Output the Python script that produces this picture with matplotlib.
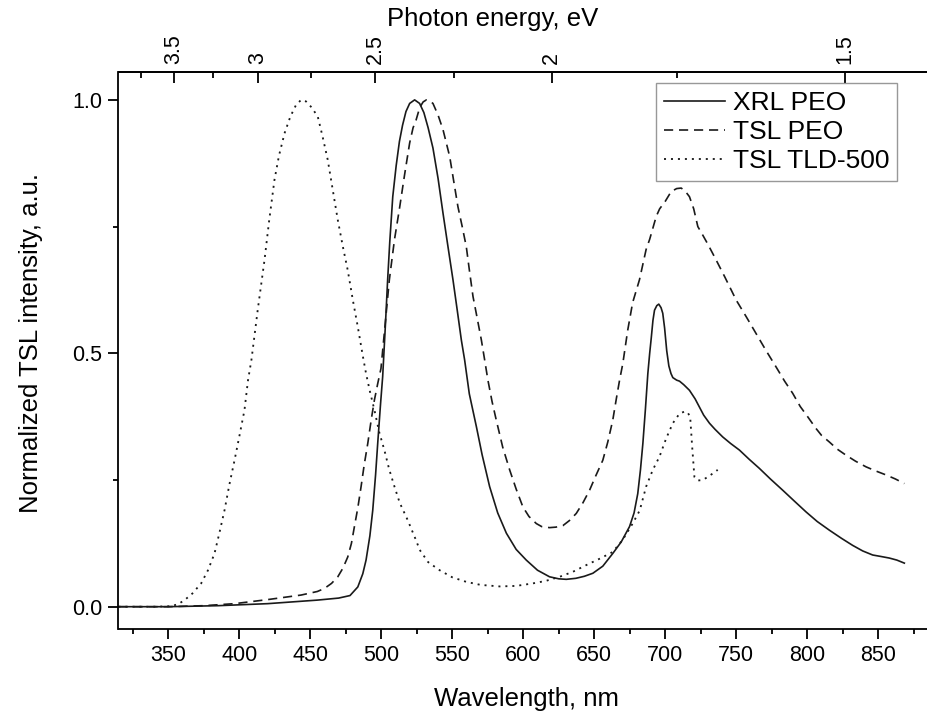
import numpy as np
import matplotlib
matplotlib.use("Agg")
import matplotlib.pyplot as plt
from matplotlib.ticker import FixedLocator, MultipleLocator

plt.rcParams['font.family'] = ['Liberation Sans', 'DejaVu Sans']

# ---- data ----
xrl_wl = [315, 350, 385, 420, 455, 470, 478, 483.5, 487, 489.3, 492, 494, 496, 497.5,
          499.5, 501, 503, 504.5, 506, 508.1, 510.5, 512.8, 515, 517.4, 520, 523.5,
          527, 530, 533, 536.4, 540, 543.5, 547, 550.5, 553.5, 556.4, 558.7, 562,
          567, 571, 576.3, 582, 588.1, 595, 602.1, 610, 618.5, 625, 630.3, 637, 643,
          649, 656, 663, 669, 674.8, 678, 680.6, 682.5, 684.2, 686, 687.7, 689,
          690.1, 691.3, 692.4, 694, 695.4, 697, 698.2, 699.5, 701, 702.5, 704,
          705.3, 708, 710, 713, 717, 721, 724, 727, 731.1, 735, 740.4, 746, 752.2,
          759, 766.2, 774, 782.6, 791, 799.1, 807, 815.5, 824, 831.9, 839, 846,
          852, 857.7, 863, 868.3]
xrl_int = [0.000, 0.000, 0.002, 0.006, 0.013, 0.017, 0.022, 0.039, 0.065, 0.092, 0.14,
           0.19, 0.26, 0.322, 0.40, 0.454, 0.56, 0.645, 0.72, 0.809, 0.87, 0.918,
           0.950, 0.977, 0.993, 1.000, 0.993, 0.975, 0.945, 0.905, 0.845, 0.776,
           0.71, 0.645, 0.585, 0.526, 0.487, 0.42, 0.355, 0.30, 0.237, 0.185, 0.145,
           0.113, 0.092, 0.072, 0.059, 0.055, 0.054, 0.056, 0.060, 0.066, 0.080,
           0.105, 0.128, 0.158, 0.185, 0.223, 0.27, 0.322, 0.39, 0.46, 0.50, 0.53,
           0.565, 0.585, 0.594, 0.597, 0.59, 0.579, 0.55, 0.505, 0.475, 0.46,
           0.452, 0.447, 0.445, 0.438, 0.427, 0.41, 0.394, 0.378, 0.362, 0.35,
           0.335, 0.322, 0.309, 0.291, 0.273, 0.252, 0.23, 0.208, 0.187, 0.168,
           0.151, 0.135, 0.121, 0.110, 0.102, 0.099, 0.096, 0.092, 0.086]

tsl_wl = [315, 350, 375, 396.7, 420, 443.6, 455, 460, 465, 469.4, 473, 476.4, 479,
          481.1, 483.5, 485.8, 488, 490.5, 493, 495.2, 497.5, 499.8, 502.5, 505.7,
          509.3, 512.8, 516.3, 518, 520, 522.4, 524.5, 527.1, 529.5, 531.8, 534,
          536.4, 540, 543.5, 548.2, 551, 554, 557, 559.9, 562, 564.6, 567.5, 570.5,
          572.8, 575.1, 578, 581, 585.5, 590.4, 595, 599.7, 604, 609.2, 613, 618.5,
          623, 627.9, 632.5, 637.3, 642, 646.7, 651, 656, 659.5, 663, 665.5, 667.8,
          670.1, 673.5, 677, 681.8, 686.5, 689, 693.6, 696, 700, 704.1, 708, 711.2,
          714, 717, 720, 722.9, 726, 730, 735.8, 742, 749.9, 757, 763.9, 771, 778,
          784, 789.7, 795, 800.2, 806, 810, 815.5, 821, 827.2, 834, 841.3, 848,
          855.4, 862, 868.3]
tsl_int = [0.000, 0.000, 0.002, 0.006, 0.014, 0.023, 0.030, 0.036, 0.046, 0.059,
           0.076, 0.098, 0.125, 0.158, 0.195, 0.237, 0.28, 0.322, 0.37, 0.408, 0.44,
           0.47, 0.55, 0.645, 0.724, 0.785, 0.85, 0.88, 0.915, 0.945, 0.96, 0.985,
           0.996, 1.000, 0.998, 0.993, 0.97, 0.941, 0.888, 0.84, 0.789, 0.75, 0.71,
           0.665, 0.612, 0.57, 0.526, 0.487, 0.447, 0.405, 0.368, 0.315, 0.27,
           0.232, 0.197, 0.178, 0.164, 0.158, 0.156, 0.157, 0.16, 0.17, 0.184,
           0.205, 0.23, 0.258, 0.289, 0.325, 0.368, 0.41, 0.447, 0.48, 0.545, 0.60,
           0.645, 0.705, 0.725, 0.77, 0.785, 0.80, 0.819, 0.825, 0.826, 0.82, 0.809,
           0.785, 0.75, 0.735, 0.715, 0.684, 0.65, 0.605, 0.572, 0.539, 0.505,
           0.473, 0.445, 0.421, 0.395, 0.375, 0.352, 0.338, 0.325, 0.311, 0.299,
           0.287, 0.276, 0.268, 0.26, 0.252, 0.243]

tld_wl = [315, 340, 352, 357, 361.5, 367, 373.2, 378, 382.6, 386, 389.7, 393, 396.7,
          400, 403.7, 406.2, 408.6, 413, 417.8, 421, 424.8, 428, 431.9, 436, 440,
          443.6, 447, 451, 455.3, 458.5, 462.3, 466, 469.4, 473, 476.4, 480, 483.5,
          487, 489.3, 492, 495.2, 498.5, 502.2, 505.5, 509.3, 513, 518.6, 524.5,
          527.1, 533, 541.1, 550, 559.9, 570, 583.3, 595, 606.8, 616, 625.6, 635,
          644.3, 654, 663, 670, 677, 682, 686.5, 691.2, 695.9, 700.6, 705.3, 710,
          713.5, 715.5, 717.5, 718.9, 720.5, 723, 726.4, 731, 736.9]
tld_int = [0.0, 0.0, 0.001, 0.005, 0.013, 0.026, 0.046, 0.072, 0.105, 0.145, 0.191,
           0.24, 0.289, 0.335, 0.388, 0.447, 0.487, 0.585, 0.684, 0.76, 0.842, 0.89,
           0.934, 0.967, 0.99, 1.0, 0.997, 0.985, 0.967, 0.93, 0.882, 0.82, 0.763,
           0.71, 0.664, 0.605, 0.552, 0.495, 0.46, 0.425, 0.388, 0.345, 0.309,
           0.272, 0.237, 0.205, 0.171, 0.131, 0.112, 0.088, 0.072, 0.058, 0.049,
           0.043, 0.040, 0.041, 0.046, 0.051, 0.059, 0.069, 0.082, 0.095, 0.108,
           0.132, 0.164, 0.19, 0.237, 0.27, 0.296, 0.332, 0.362, 0.381, 0.385,
           0.384, 0.375, 0.316, 0.256, 0.249, 0.25, 0.258, 0.27]

labels = ["XRL PEO", "TSL PEO", "TSL TLD-500"]
x_ticks_major = [350, 400, 450, 500, 550, 600, 650, 700, 750, 800, 850]
ev_ticks_major = [3.5, 3, 2.5, 2, 1.5]
ev_tick_labels = ["3.5", "3", "2.5", "2", "1.5"]
ev_ticks_minor = [3.75, 3.25, 2.75, 2.25, 1.75, 1.25]
y_ticks = [0.0, 0.5, 1.0]
y_tick_labels = ["0.0", "0.5", "1.0"]

HC = 1239.84

# ---- figure ----
W, H = 928, 711
fig = plt.figure(figsize=(W / 100, H / 100), dpi=100)
left_px, right_px, top_px, bot_px = 118.5, 938.0, 72.0, 629.0
ax = fig.add_axes([left_px / W, 1 - bot_px / H, (right_px - left_px) / W,
                   (bot_px - top_px) / H])

lw = 1.2
ax.plot(xrl_wl, xrl_int, color='#1a1a1a', lw=lw, label=labels[0])
ax.plot(tsl_wl, tsl_int, color='#1a1a1a', lw=lw, dashes=(5.5, 3.5), label=labels[1])
ax.plot(tld_wl, tld_int, color='#1a1a1a', lw=lw * 1.1, dashes=(1.1, 2.7), label=labels[2])

ax.set_xlim(315, 892)
ax.set_ylim(-0.044, 1.055)

ax.set_xticks(x_ticks_major)
ax.xaxis.set_minor_locator(MultipleLocator(25))
ax.set_yticks(y_ticks)
ax.set_yticklabels(y_tick_labels)
ax.yaxis.set_minor_locator(MultipleLocator(0.25))

for s in ax.spines.values():
    s.set_linewidth(1.3)
ax.spines['right'].set_visible(False)
ax.spines['top'].set_visible(True)

ax.tick_params(axis='both', which='major', direction='out', length=7.5, width=1.3,
               labelsize=15.5, pad=4)
ax.tick_params(axis='both', which='minor', direction='out', length=3.8, width=1.3)
ax.tick_params(top=False, right=False, which='both')

def nm2ev(x):
    x = np.asarray(x, dtype=float)
    with np.errstate(divide='ignore', invalid='ignore'):
        return HC / x

sec = ax.secondary_xaxis('top', functions=(nm2ev, nm2ev))
sec.xaxis.set_major_locator(FixedLocator(ev_ticks_major))
sec.xaxis.set_minor_locator(FixedLocator(ev_ticks_minor))
sec.set_xticklabels(ev_tick_labels, rotation=90)
sec.tick_params(axis='x', which='major', direction='in', length=8, width=1.3,
                labelsize=15.5, pad=6)
sec.tick_params(axis='x', which='minor', direction='in', length=4.5, width=1.3)
sec.spines['top'].set_linewidth(1.3)

fig.text(526.5 / W, 1 - 699 / H, "Wavelength, nm", ha='center', va='center', fontsize=18.5)
fig.text(493 / W, 1 - 19 / H, "Photon energy, eV", ha='center', va='center', fontsize=18.5)
fig.text(31 / W, 1 - 343 / H, "Normalized TSL intensity, a.u.", ha='center',
         va='center', rotation=90, fontsize=18.5)

leg = fig.legend(loc='upper left', bbox_to_anchor=(656 / W, 1 - 83 / H),
                 bbox_transform=fig.transFigure, fontsize=19, frameon=True,
                 fancybox=False, borderaxespad=0, handlelength=2.3,
                 handletextpad=0.3, labelspacing=0.2, borderpad=0.3)
leg.get_frame().set_edgecolor('#7f7f7f')
leg.get_frame().set_linewidth(1.0)

fig.savefig("out.png", dpi=100)
